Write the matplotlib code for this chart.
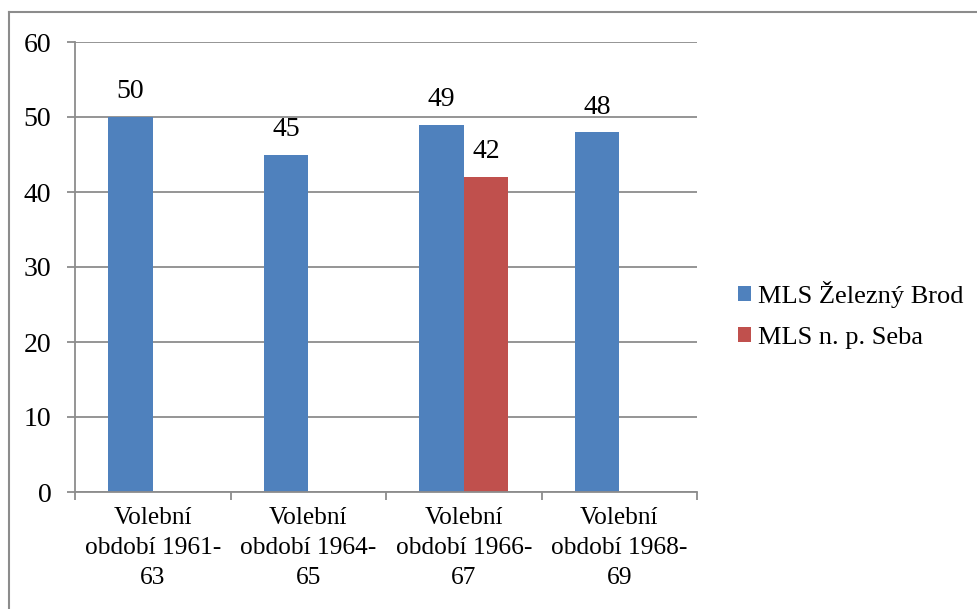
import numpy as np
import matplotlib
matplotlib.use("Agg")
import matplotlib.pyplot as plt
from matplotlib.lines import Line2D

categories = ["Volební\nobdobí 1961-\n63", "Volební\nobdobí 1964-\n65",
              "Volební\nobdobí 1966-\n67", "Volební\nobdobí 1968-\n69"]
series_names = ["MLS Železný Brod", "MLS n. p. Seba"]
brod = [50, 45, 49, 48]
seba = [np.nan, np.nan, 42, np.nan]
colors = ["#4F81BD", "#C0504D"]
yticks = [0, 10, 20, 30, 40, 50, 60]

plt.rcParams['font.family'] = ['Liberation Serif', 'DejaVu Serif']
fs = 20

fig = plt.figure(figsize=(9.77, 6.09), dpi=100)
ax = fig.add_axes([75 / 977, 1 - 492 / 609, (697 - 75) / 977, (492 - 42) / 609])

x = np.arange(len(categories))
w = 0.285
b1 = ax.bar(x - w / 2, brod, w, color=colors[0], label=series_names[0])
b2 = ax.bar(x + w / 2, seba, w, color=colors[1], label=series_names[1])

for bars, vals in ((b1, brod), (b2, seba)):
    for r, v in zip(bars, vals):
        if np.isnan(v):
            continue
        ax.annotate("%d" % v, (r.get_x() + r.get_width() / 2, v),
                    xytext=(0, 9), textcoords="offset points",
                    ha="center", va="bottom", fontsize=fs)

ax.set_xlim(-0.5, 3.5)
ax.set_ylim(0, 60)
ax.set_yticks(yticks)
ax.set_yticklabels([str(t) for t in yticks], fontsize=fs)
ax.yaxis.grid(True, color="#8c8c8c", linewidth=1.3)
ax.set_axisbelow(True)

ax.set_xticks(x)
ax.set_xticklabels(categories, fontsize=18.3, linespacing=1.47)
ax.tick_params(axis="x", length=0, pad=11)
ax.set_xticks(np.arange(-0.5, 4.0, 1.0), minor=True)
ax.tick_params(axis="x", which="minor", length=6, color="#8c8c8c", width=1.3)
ax.tick_params(axis="y", length=6, color="#8c8c8c", width=1.3, pad=11)

for s in ("top", "right"):
    ax.spines[s].set_visible(False)
for s in ("left", "bottom"):
    ax.spines[s].set_color("#8c8c8c")
    ax.spines[s].set_linewidth(1.3)

ax.legend(loc="center left", bbox_to_anchor=((738 - 75) / 622, (492 - 315) / 450),
          frameon=False, borderpad=0, borderaxespad=0,
          fontsize=19, handlelength=0.5, handleheight=0.5, handletextpad=0.25,
          labelspacing=0.72)

# outer chart border (top and left only visible)
fig.add_artist(Line2D([9 / 977, 9 / 977], [0, 1 - 12 / 609], color="#8c8c8c", lw=1.5))
fig.add_artist(Line2D([9 / 977, 1], [1 - 12 / 609, 1 - 12 / 609], color="#8c8c8c", lw=1.5))

fig.savefig("out.png", dpi=100)
